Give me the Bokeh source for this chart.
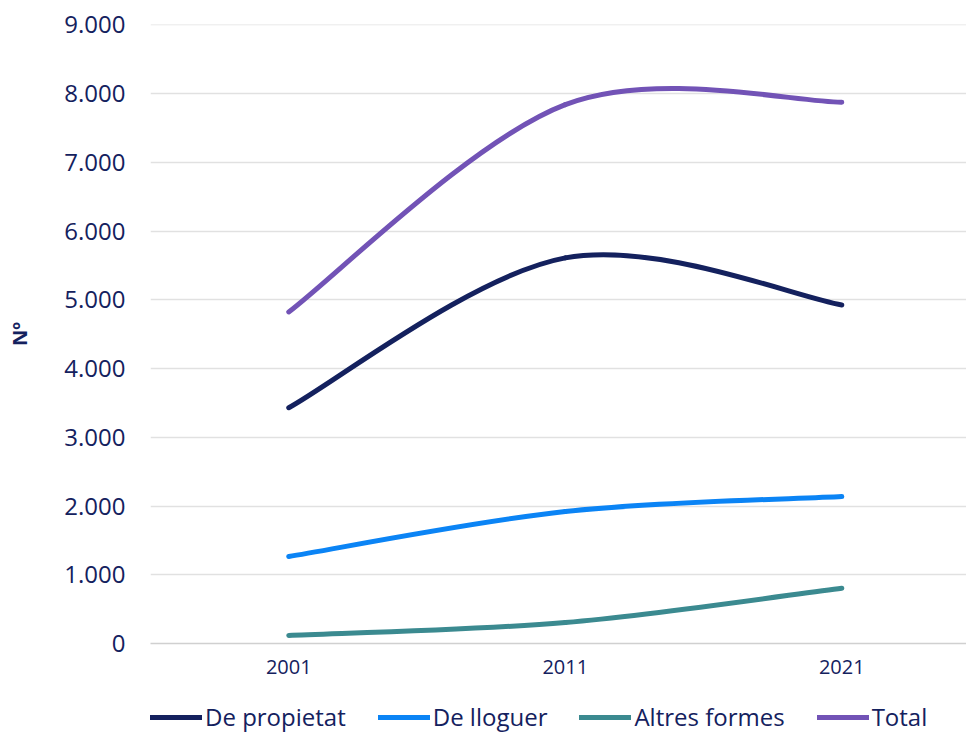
from bokeh.plotting import figure
from bokeh.layouts import column
from bokeh.models import Range1d, FixedTicker, Legend, LegendItem, ColumnDataSource
from bokeh.embed import file_html
from bokeh.resources import INLINE

years = ["2001", "2011", "2021"]
propietat = [3430, 5610, 4925]
lloguer = [1265, 1920, 2138]
altres = [118, 305, 805]
total = [4823, 7840, 7875]
y_ticks = [0, 1000, 2000, 3000, 4000, 5000, 6000, 7000, 8000, 9000]
y_tick_labels = ["0", "1.000", "2.000", "3.000", "4.000", "5.000", "6.000", "7.000", "8.000", "9.000"]

series = [
    ("De propietat", propietat, "#14215E"),
    ("De lloguer", lloguer, "#0B84F5"),
    ("Altres formes", altres, "#3B8A90"),
    ("Total", total, "#7253B6"),
]

NAVY = "#14215E"
FONT = "Open Sans"

p = figure(width=966, height=696, output_backend="svg", toolbar_location=None,
           x_range=Range1d(0, 2.951), y_range=Range1d(0, 9005))
p.min_border_left = 150
p.min_border_right = 0
p.min_border_top = 24
p.min_border_bottom = 53
p.outline_line_color = None
p.background_fill_color = "white"
p.border_fill_color = "white"

xs = [i + 0.5 for i in range(len(years))]


def bezier_segments(x, y):
    n = len(x)
    out = dict(x0=[], y0=[], x1=[], y1=[], cx0=[], cy0=[], cx1=[], cy1=[])
    for i in range(n - 1):
        xa, ya = (x[i - 1], y[i - 1]) if i > 0 else (x[i], y[i])
        xd, yd = (x[i + 2], y[i + 2]) if i + 2 < n else (x[i + 1], y[i + 1])
        out["x0"].append(x[i]); out["y0"].append(y[i])
        out["x1"].append(x[i + 1]); out["y1"].append(y[i + 1])
        out["cx0"].append(x[i] + (x[i + 1] - xa) / 6)
        out["cy0"].append(y[i] + (y[i + 1] - ya) / 6)
        out["cx1"].append(x[i + 1] - (xd - x[i]) / 6)
        out["cy1"].append(y[i + 1] - (yd - y[i]) / 6)
    return out


# legend-only strip below the chart
lf = figure(width=966, height=37, output_backend="svg", toolbar_location=None,
            x_range=Range1d(0, 2.951), y_range=Range1d(-20000, -19000))
lf.min_border_left = 0
lf.min_border_right = 0
lf.min_border_top = 0
lf.min_border_bottom = 0
lf.outline_line_color = None
lf.axis.visible = False
lf.grid.visible = False

items = []
for name, vals, color in series:
    seg = bezier_segments(xs, vals)
    p.bezier(x0="x0", y0="y0", x1="x1", y1="y1", cx0="cx0", cy0="cy0",
             cx1="cx1", cy1="cy1", source=ColumnDataSource(seg), line_color=color,
             line_width=5, line_cap="round")
    # same series on the legend strip (outside its visible range), used for the legend swatch
    lr = lf.bezier(x0="x0", y0="y0", x1="x1", y1="y1", cx0="cx0", cy0="cy0",
                   cx1="cx1", cy1="cy1", source=ColumnDataSource(seg), line_color=color,
                   line_width=5, line_cap="round")
    items.append(LegendItem(label=name, renderers=[lr]))

# axes
p.xaxis.ticker = FixedTicker(ticks=xs)
p.xaxis.major_label_overrides = {x: y for x, y in zip(xs, years)}
p.xaxis.major_label_text_font = FONT
p.xaxis.major_label_text_font_size = "20px"
p.xaxis.major_label_text_color = NAVY
p.xaxis.major_tick_line_color = None
p.xaxis.major_tick_out = 0
p.xaxis.major_tick_in = 0
p.xaxis.minor_tick_line_color = None
p.xaxis.axis_line_color = "#D0D0D0"
p.xaxis.axis_line_width = 1.5
p.xaxis.major_label_standoff = 16
p.xaxis.axis_label = None

p.yaxis.ticker = FixedTicker(ticks=y_ticks)
p.yaxis.major_label_overrides = {t: l for t, l in zip(y_ticks, y_tick_labels)}
p.yaxis.major_label_text_font = FONT
p.yaxis.major_label_text_font_size = "24px"
p.yaxis.major_label_text_color = NAVY
p.yaxis.major_tick_line_color = None
p.yaxis.major_tick_out = 0
p.yaxis.major_tick_in = 0
p.yaxis.minor_tick_line_color = None
p.yaxis.axis_line_color = None
p.yaxis.major_label_standoff = 25
p.yaxis.axis_label = "Nº"
p.yaxis.axis_label_text_font = FONT
p.yaxis.axis_label_text_font_size = "20px"
p.yaxis.axis_label_text_font_style = "bold"
p.yaxis.axis_label_text_color = NAVY
p.yaxis.axis_label_standoff = 28

p.xgrid.grid_line_color = None
p.ygrid.grid_line_color = "#E1E1E1"
p.ygrid.grid_line_width = 1.5

legend = Legend(items=items, orientation="horizontal", location=(0, 0),
                label_text_font=FONT, label_text_font_size="24px",
                label_text_color=NAVY, glyph_width=52, glyph_height=30,
                label_height=30, label_standoff=3, spacing=32,
                border_line_color=None, background_fill_alpha=0,
                margin=0, padding=0)
lf.add_layout(legend, "center")

layout = column(p, lf, spacing=0)
open("out.html", "w").write(file_html(layout, INLINE))
